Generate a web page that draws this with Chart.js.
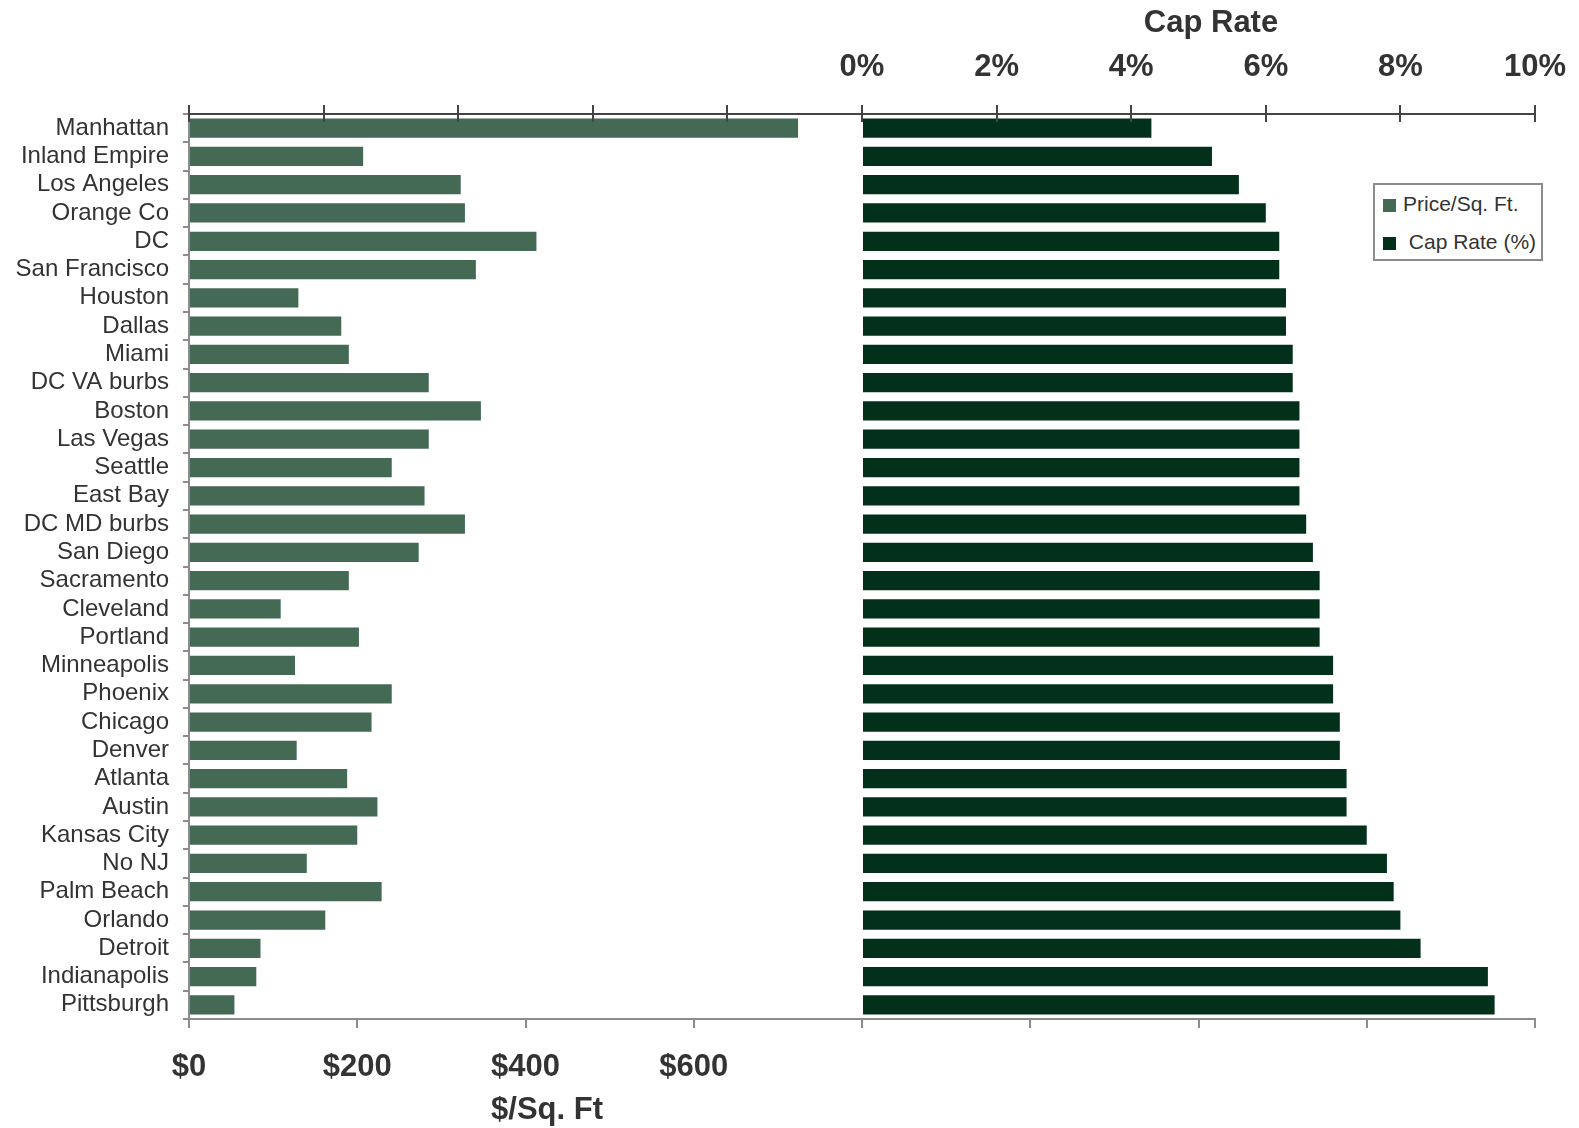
<!DOCTYPE html>
<html>
<head>
<meta charset="utf-8">
<title>Price per Sq. Ft. and Cap Rate by Market</title>
<script src="https://cdn.jsdelivr.net/npm/chart.js@4/dist/chart.umd.min.js"></script>
<style>
  body { margin: 0; background: #fff; }
  #wrap { position: relative; width: 1579px; height: 1128px; }
  #legend {
    position: absolute; left: 1373px; top: 183px; width: 166px; height: 74px;
    border: 2px solid #8c8c8c; background: #fff;
    font-family: "Liberation Sans", Arial, sans-serif; font-size: 21px; color: #333;
  }
  #legend div { position: absolute; left: 8px; white-space: nowrap; }
  #legend span { display: inline-block; width: 13px; height: 13px; margin-right: 7px; vertical-align: -1px; }
</style>
</head>
<body>
<div id="wrap">
  <canvas id="chart" width="1579" height="1128"></canvas>
  <div id="legend">
    <div style="top:7px"><span style="background:#446955"></span>Price/Sq. Ft.</div>
    <div style="top:45px"><span style="background:#02301a"></span>&nbsp;Cap Rate (%)</div>
  </div>
</div>
<script>
// Markets, top to bottom
const cities = ["Manhattan", "Inland Empire", "Los Angeles", "Orange Co", "DC", "San Francisco",
  "Houston", "Dallas", "Miami", "DC VA burbs", "Boston", "Las Vegas", "Seattle", "East Bay",
  "DC MD burbs", "San Diego", "Sacramento", "Cleveland", "Portland", "Minneapolis", "Phoenix",
  "Chicago", "Denver", "Atlanta", "Austin", "Kansas City", "No NJ", "Palm Beach", "Orlando",
  "Detroit", "Indianapolis", "Pittsburgh"];

// $ per sq. ft.
const price = [724, 207, 323, 328, 413, 341, 130, 181, 190, 285, 347, 285, 241, 280,
  328, 273, 190, 109, 202, 126, 241, 217, 128, 188, 224, 200, 140, 229, 162, 85, 80, 54];

// cap rate, %
const capRate = [4.3, 5.2, 5.6, 6.0, 6.2, 6.2, 6.3, 6.3, 6.4, 6.4, 6.5, 6.5, 6.5, 6.5,
  6.6, 6.7, 6.8, 6.8, 6.8, 7.0, 7.0, 7.1, 7.1, 7.2, 7.2, 7.5, 7.8, 7.9, 8.0, 8.3, 9.3, 9.4];

const FONT = "'Liberation Sans', Arial, sans-serif";
const TEXT = "#333333";

// axis titles and the inner half of the top axis ticks
const extras = {
  id: "extras",
  afterDraw(chart) {
    const ctx = chart.ctx;
    const top = chart.scales.x2;
    ctx.save();
    ctx.strokeStyle = "#444";
    ctx.lineWidth = 2;
    top.ticks.forEach(t => {
      const px = Math.round(top.getPixelForValue(t.value));
      ctx.beginPath();
      ctx.moveTo(px, top.bottom);
      ctx.lineTo(px, top.bottom + 8);
      ctx.stroke();
    });
    ctx.fillStyle = TEXT;
    ctx.font = "bold 31px " + FONT;
    ctx.textAlign = "center";
    ctx.textBaseline = "middle";
    ctx.fillText("Cap Rate", 1211, 23);
    ctx.fillText("$/Sq. Ft", 547, 1110);
    ctx.restore();
  }
};

// keep the end labels from pushing the plot area inwards
const noSidePad = s => { s.paddingLeft = 0; s.paddingRight = 0; };

new Chart(document.getElementById("chart"), {
  type: "bar",
  data: {
    labels: cities,
    datasets: [
      { label: "Price/Sq. Ft.", data: price, xAxisID: "x", backgroundColor: "#446955" },
      { label: "Cap Rate (%)", data: capRate, xAxisID: "x2", backgroundColor: "#02301a" }
    ]
  },
  options: {
    indexAxis: "y",
    responsive: false,
    animation: false,
    grouped: false,
    categoryPercentage: 1,
    barPercentage: 0.68,
    layout: { padding: { right: 44 } },
    plugins: { legend: { display: false }, tooltip: { enabled: false } },
    scales: {
      y: {
        offset: true,
        afterFit: s => { s.width = 189; },
        grid: { offset: true, drawOnChartArea: false, tickLength: 6, color: "#8c8c8c", lineWidth: 2 },
        border: { color: "#8c8c8c", width: 2 },
        ticks: { autoSkip: false, color: TEXT, font: { family: FONT, size: 24 }, padding: 14 }
      },
      x: {
        position: "bottom",
        min: 0, max: 1600,
        afterFit: s => { s.height = 109; noSidePad(s); },
        grid: { drawOnChartArea: false, tickLength: 9, color: "#8c8c8c", lineWidth: 2 },
        border: { color: "#8c8c8c", width: 2 },
        ticks: {
          stepSize: 200, maxRotation: 0, padding: 21,
          color: TEXT, font: { family: FONT, size: 31, weight: "bold" },
          callback: v => v <= 600 ? "$" + v : ""
        }
      },
      x2: {
        position: "top",
        min: -10, max: 10,
        afterFit: s => { s.height = 114; noSidePad(s); },
        grid: { drawOnChartArea: false, tickLength: 9, color: "#444", lineWidth: 2 },
        border: { color: "#444", width: 2 },
        ticks: {
          stepSize: 2, maxRotation: 0, padding: 19,
          color: TEXT, font: { family: FONT, size: 31, weight: "bold" },
          callback: v => v >= 0 ? v + "%" : ""
        }
      }
    }
  },
  plugins: [extras]
});
</script>
</body>
</html>
